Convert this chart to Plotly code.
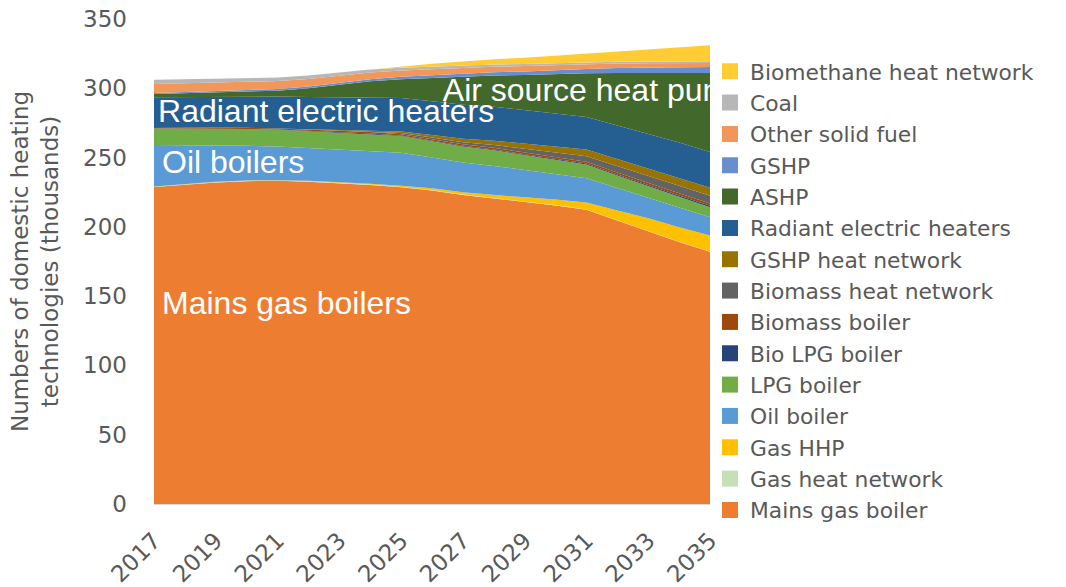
import plotly.graph_objects as go

years = [2017, 2018, 2019, 2020, 2021, 2022, 2023, 2024, 2025, 2026,
         2027, 2028, 2029, 2030, 2031, 2032, 2033, 2034, 2035]
tick_years = [2017, 2019, 2021, 2023, 2025, 2027, 2029, 2031, 2033, 2035]
tick_labels = ["2017", "2019", "2021", "2023", "2025", "2027", "2029", "2031", "2033", "2035"]

# thousands of domestic heating technologies (stacked bottom -> top)
mains_gas_boiler = [228.7, 230.5, 232.0, 233.0, 233.2, 232.6, 231.6, 230.2, 228.5, 226.3,
                    223.0, 220.5, 218.0, 215.5, 212.3, 204.5, 196.5, 189.0, 182.0]
gas_heat_network = [0.3, 0.3, 0.3, 0.3, 0.3, 0.3, 0.3, 0.3, 0.3, 0.3,
                    0.3, 0.3, 0.3, 0.3, 0.3, 0.3, 0.3, 0.3, 0.3]
gas_hhp = [0.2, 0.2, 0.2, 0.2, 0.2, 0.3, 0.4, 0.6, 0.9, 1.2,
           1.6, 2.2, 3.0, 4.0, 5.0, 7.0, 9.5, 10.5, 11.5]
oil_boiler = [29.8, 28.0, 26.5, 25.0, 24.3, 23.8, 23.7, 23.9, 23.8, 22.2,
              21.6, 21.0, 19.7, 18.2, 17.4, 16.2, 14.7, 14.2, 13.2]
lpg_boiler = [12.0, 12.0, 12.0, 12.0, 12.0, 12.0, 12.0, 12.0, 12.0, 11.8,
              11.5, 11.2, 10.8, 10.4, 10.0, 9.0, 8.2, 7.7, 7.2]
bio_lpg_boiler = [0.2, 0.2, 0.2, 0.2, 0.2, 0.3, 0.3, 0.4, 0.4, 0.5,
                  0.5, 0.6, 0.6, 0.7, 0.7, 0.8, 0.9, 1.0, 1.1]
biomass_boiler = [0.8, 0.8, 0.8, 0.8, 0.8, 0.9, 0.9, 1.0, 1.0, 1.1,
                  1.1, 1.2, 1.2, 1.3, 1.3, 1.4, 1.4, 1.5, 1.5]
biomass_heat_network = [0.0, 0.0, 0.0, 0.0, 0.0, 0.1, 0.3, 0.5, 0.8, 1.1,
                        1.5, 2.0, 2.5, 3.2, 4.0, 4.5, 5.0, 5.4, 5.7]
gshp_heat_network = [0.0, 0.0, 0.0, 0.0, 0.0, 0.1, 0.3, 0.7, 1.2, 1.8,
                     2.5, 3.2, 3.8, 4.3, 4.8, 5.2, 5.5, 5.7, 5.8]
radiant_electric = [21.6, 21.8, 22.1, 22.5, 23.0, 23.3, 23.6, 23.8, 24.1, 24.4,
                    24.6, 24.5, 24.2, 23.8, 23.5, 24.2, 25.0, 25.5, 25.7]
ashp = [2.2, 2.5, 2.8, 3.5, 4.3, 6.3, 9.0, 11.6, 13.5, 16.8,
        20.0, 22.5, 25.5, 28.6, 31.5, 38.0, 44.0, 50.0, 57.0]
gshp = [0.8, 0.9, 1.0, 1.1, 1.2, 1.3, 1.5, 1.6, 1.8, 2.0,
        2.2, 2.4, 2.6, 2.9, 3.2, 3.5, 3.8, 4.1, 4.3]
other_solid_fuel = [6.5, 6.3, 6.1, 5.9, 5.7, 5.4, 5.1, 4.8, 4.6, 4.4,
                    4.2, 4.0, 3.8, 3.6, 3.5, 3.3, 3.2, 3.1, 3.0]
coal = [3.0, 2.9, 2.8, 2.7, 2.6, 2.5, 2.3, 2.1, 1.9, 1.8,
        1.7, 1.6, 1.5, 1.4, 1.3, 1.3, 1.2, 1.2, 1.2]
biomethane_heat_network = [0.0, 0.0, 0.0, 0.0, 0.0, 0.0, 0.0, 0.3, 1.0, 2.0,
                           3.0, 3.8, 4.6, 5.4, 6.2, 7.5, 8.8, 10.1, 11.5]

series_names = ["Mains gas boiler", "Gas heat network", "Gas HHP", "Oil boiler", "LPG boiler",
                "Bio LPG boiler", "Biomass boiler", "Biomass heat network", "GSHP heat network",
                "Radiant electric heaters", "ASHP", "GSHP", "Other solid fuel", "Coal",
                "Biomethane heat network"]
series_values = [mains_gas_boiler, gas_heat_network, gas_hhp, oil_boiler, lpg_boiler,
                 bio_lpg_boiler, biomass_boiler, biomass_heat_network, gshp_heat_network,
                 radiant_electric, ashp, gshp, other_solid_fuel, coal, biomethane_heat_network]
series_colors = ["#ED7D31", "#C5E0B4", "#FFC000", "#5B9BD5", "#70AD47",
                 "#264478", "#9E480E", "#636363", "#997300",
                 "#255E91", "#43682B", "#698ED0", "#F1975A", "#B7B7B7", "#FFCD33"]

# in-chart labels
label_texts = ["Mains gas boilers", "Oil boilers", "Radiant electric heaters", "Air source heat pump"]
label_x = [2017.26, 2017.26, 2017.13, 2026.35]
label_y = [143, 245, 281.8, 296.3]

fig = go.Figure()

for name, vals, col in zip(series_names, series_values, series_colors):
    fig.add_trace(go.Scatter(
        x=years, y=vals, name=name, mode="lines", stackgroup="one",
        line=dict(width=0, color=col), fillcolor=col, showlegend=False,
        hoverinfo="x+y+name"))

fig.add_trace(go.Scatter(
    x=label_x, y=label_y, text=label_texts, mode="text", textposition="middle right",
    textfont=dict(family="Liberation Sans, Arial, sans-serif", size=32, color="white"),
    showlegend=False, cliponaxis=True, hoverinfo="skip"))

# legend entries (square swatches), top to bottom as in the reference
for name, col in reversed(list(zip(series_names, series_colors))):
    fig.add_trace(go.Scatter(
        x=[None], y=[None], mode="markers", name=name,
        marker=dict(symbol="square", size=16, color=col, line=dict(width=0))))

fig.update_layout(
    width=1066, height=587,
    margin=dict(l=154, r=356, t=19, b=83, pad=0, autoexpand=False),
    paper_bgcolor="white", plot_bgcolor="white",
    font=dict(family="DejaVu Sans, sans-serif", color="#595959", size=23),
    legend=dict(x=1.0, xanchor="left", y=0.935, yanchor="top",
                font=dict(size=21.8, color="#595959"), bgcolor="rgba(255,255,255,1)",
                traceorder="normal", borderwidth=0),
    xaxis=dict(range=[2017, 2035], tickmode="array", tickvals=tick_years, ticktext=tick_labels,
               tickangle=-45, showgrid=False, zeroline=False, showline=True,
               linecolor="#D9D9D9", linewidth=1, ticks="", automargin=False,
               tickfont=dict(size=23, color="#595959"), ticklabelstandoff=13),
    yaxis=dict(range=[0, 350], dtick=50, showgrid=True, gridcolor="#D9D9D9", zeroline=False,
               showline=False, ticks="", automargin=False,
               tickfont=dict(size=23, color="#595959"), ticklabelstandoff=26,
               title=dict(text="Numbers of domestic heating<br>technologies (thousands)",
                          font=dict(size=23, color="#595959"), standoff=18)),
)

fig.write_html("out.html", config={"displayModeBar": False},
               post_script="document.body.style.margin='0px';")
